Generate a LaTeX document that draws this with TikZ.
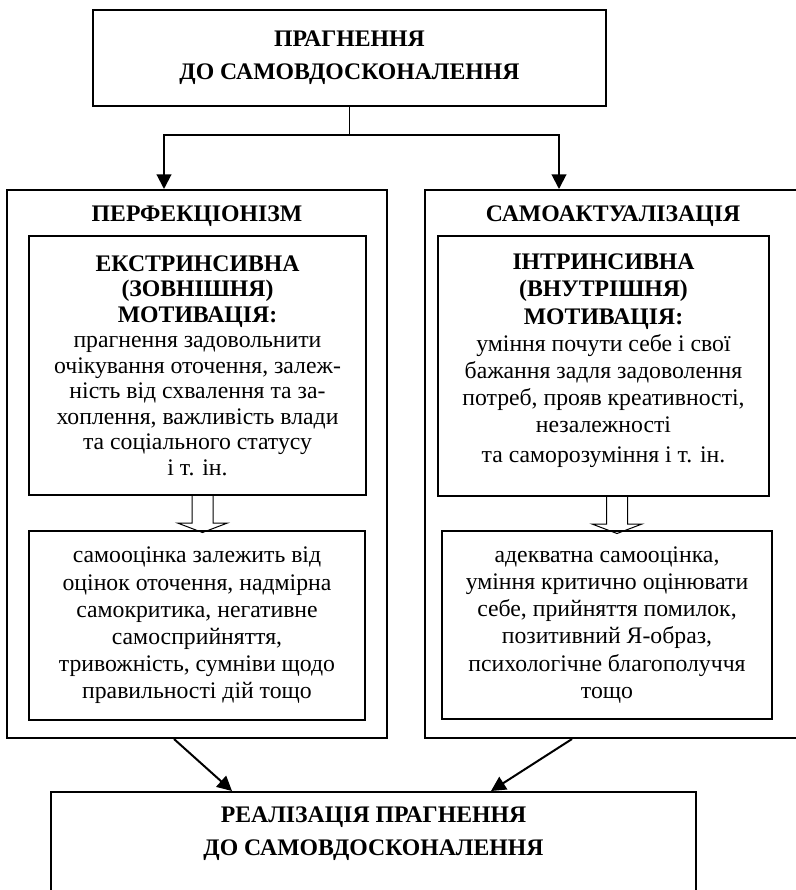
\documentclass[tikz,border=0pt]{standalone}
\usepackage{fontspec}
\setmainfont{Liberation Serif}
\usetikzlibrary{arrows.meta, calc}
\tikzset{
    bigbox/.style={draw, line width=1.5pt, inner sep=0pt}, % зовнішні рамки
    txtbox/.style={draw, line width=1.5pt, align=center, inner sep=0pt, font=\fontsize{17.8}{20.4}\selectfont}, % рамки з текстом
    headline/.style={align=center, font=\bfseries\fontsize{17.8}{25}\selectfont}, % заголовки
    arr/.style={line width=1.5pt, -{Triangle[width=11pt,length=11pt]}},
    hollow/.style={draw, line width=0.75pt}
}
\begin{document}
\begin{tikzpicture}[x=0.75pt, y=-0.75pt]
    \def\px{0.75pt}
    \useasboundingbox (0,0) rectangle (796,890);

    \node[bigbox, headline, minimum width=513*\px, minimum height=96*\px] (top) at (349.5,58) {ПРАГНЕННЯ\\ДО САМОВДОСКОНАЛЕННЯ};

    \node[bigbox, minimum width=380*\px, minimum height=548*\px,
        label={[headline, anchor=center, yshift=-20.25pt]north:ПЕРФЕКЦІОНІЗМ}] (perf) at (197,464) {};
    \node[bigbox, minimum width=376*\px, minimum height=548*\px,
        label={[headline, anchor=center, yshift=-20.25pt]north:САМОАКТУАЛІЗАЦІЯ}] (selfact) at (613,464) {};

    \node[txtbox, font=\fontsize{17.8}{19.1}\selectfont, minimum width=337*\px, minimum height=259*\px] (extr) at (197.5,365.5) {\textbf{ЕКСТРИНСИВНА}\\\textbf{(ЗОВНІШНЯ)}\\\textbf{МОТИВАЦІЯ:}\\прагнення задовольнити\\очікування оточення, залеж-\\ність від схвалення та за-\\хоплення, важливість влади\\та соціального статусу\\і т. ін.};
    \node[txtbox, minimum width=331*\px, minimum height=260*\px] (intr) at (603.5,366) {\textbf{ІНТРИНСИВНА}\\\textbf{(ВНУТРІШНЯ)}\\\textbf{МОТИВАЦІЯ:}\\уміння почути себе і свої\\бажання задля задоволення\\потреб, прояв креативності,\\незалежності\\[2pt]та саморозуміння і т. ін.\\[-9pt]\mbox{}};

    \node[txtbox, minimum width=336*\px, minimum height=189*\px] (extres) at (197,625.5) {самооцінка залежить від\\оцінок оточення, надмірна\\самокритика, негативне\\самосприйняття,\\тривожність, сумніви щодо\\правильності дій тощо};
    \node[txtbox, minimum width=330*\px, minimum height=188*\px] (intres) at (607,625) {адекватна самооцінка,\\уміння критично оцінювати\\себе, прийняття помилок,\\позитивний Я-образ,\\психологічне благополуччя\\тощо};

    \node[bigbox, minimum width=645*\px, minimum height=116*\px,
        label={[headline, anchor=center, yshift=-32pt]north:РЕАЛІЗАЦІЯ ПРАГНЕННЯ\\ДО САМОВДОСКОНАЛЕННЯ}] (real) at (373.5,850) {};

    % розгалуження від верхнього блоку
    \coordinate (fork) at ($(top.south)+(0,28)$);
    \draw[line width=0.75pt] (top) -- (fork);
    \draw[arr] (fork) -| ($(perf.north west)+(158,0)$);
    \draw[arr] (fork) -| ($(selfact.north west)+(135,0)$);

    % порожнисті стрілки
    \foreach \a/\b/\dx in {extr/extres/5, intr/intres/13.5} {
        \draw[hollow] ($(\a.south)+(\dx,0)$) ++(-10.5,0) -- ++(0,27) -- ++(-14.5,0) -- ++(25,9.5) -- ++(25,-9.5) -- ++(-14.5,0) -- ++(0,-27);
    }

    \draw[arr] ($(perf.south west)+(168,0)$) -- ($(real.north west)+(182,0)$);
    \draw[arr] ($(selfact.south west)+(148,0)$) -- ($(real.north west)+(441,0)$);
\end{tikzpicture}
\end{document}
